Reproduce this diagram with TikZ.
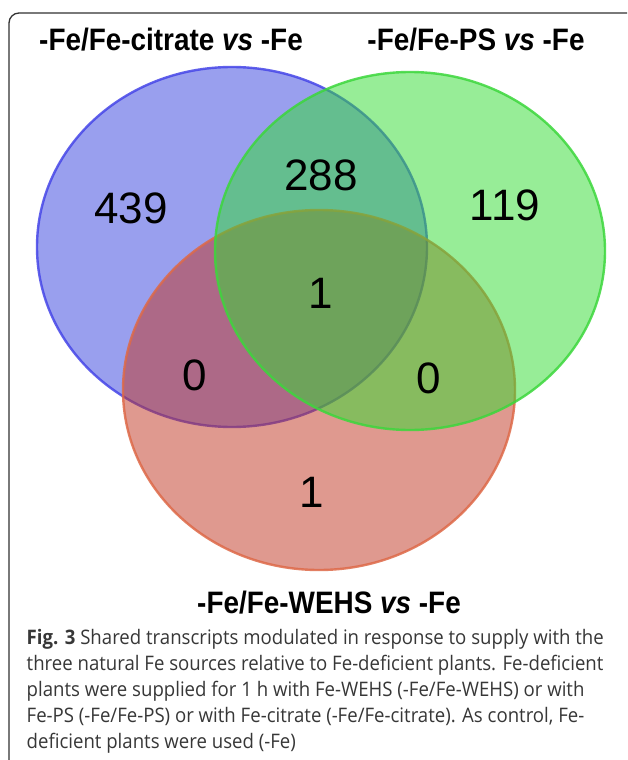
\documentclass[tikz,border=0pt]{standalone}
\usepackage{fontspec}
\setmainfont{Liberation Sans}
\newfontfamily\capfont{Open Sans}
\definecolor{vblue}{RGB}{53,65,223}
\definecolor{vgreen}{RGB}{49,221,49}
\definecolor{vred}{RGB}{193,53,33}
\definecolor{vbluel}{RGB}{70,70,232}
\definecolor{vgreenl}{RGB}{60,215,60}
\definecolor{vredl}{RGB}{222,105,72}
\definecolor{capgray}{RGB}{55,55,55}
\definecolor{framegray}{RGB}{50,50,50}
\tikzset{
  venn/.style={fill opacity=0.5, draw opacity=0.85, line width=2.4pt},
  count/.style={font=\fontsize{44}{44}\selectfont, inner sep=0pt, anchor=center},
  settitle/.style={font=\bfseries\fontsize{31}{31}\selectfont, inner sep=0pt, anchor=center},
  capline/.style={font=\capfont\fontsize{20}{20}\selectfont, text=capgray, inner sep=0pt, anchor=base west},
}
\newcommand{\capsq}[1]{\scalebox{0.93}[1]{#1}}
\begin{document}
\begin{tikzpicture}[x=1pt,y=-1pt]
\useasboundingbox (0,0) rectangle (627,760);
\clip (0,0) rectangle (627,760);
\fill[white] (0,0) rectangle (627,760);
\draw[framegray, line width=1.3pt, rounded corners=10pt] (9,800) -- (9,13) -- (637,13) -- (637,800);
% Venn ellipses: blue, red, green
\draw[venn, fill=vblue, draw=vbluel] (232,247) ellipse [x radius=195pt, y radius=180pt];
\draw[venn, fill=vred, draw=vredl] (319,390) ellipse [x radius=196pt, y radius=180pt];
\draw[venn, fill=vgreen, draw=vgreenl] (410,251) ellipse [x radius=195pt, y radius=179pt];
% set titles
\node[settitle] (t1) at (171,40) {\scalebox{0.9}[1]{-Fe/Fe-citrate \textit{vs} -Fe}};
\node[settitle] (t2) at (476,40) {\scalebox{0.9}[1]{-Fe/Fe-PS \textit{vs} -Fe}};
\node[settitle] (t3) at (329,603) {\scalebox{0.9}[1]{-Fe/Fe-WEHS \textit{vs} -Fe}};
% counts
\node[count] (c1) at (131,208) {439};
\node[count] (c2) at (321,175) {288};
\node[count] (c3) at (505,205) {119};
\node[count] (c4) at (321,293) {1};
\node[count] (c5) at (195,375) {0};
\node[count] (c6) at (429,378) {0};
\node[count] (c7) at (312,492) {1};
% caption
\node[capline] (l1) at (26.5,644) {\capsq{\textbf{Fig. 3} Shared transcripts modulated in response to supply with the}};
\node[capline] (l2) at (26.5,670) {\capsq{three natural Fe sources relative to Fe-deficient plants. Fe-deficient}};
\node[capline] (l3) at (26.5,696) {\capsq{plants were supplied for 1 h with Fe-WEHS (-Fe/Fe-WEHS) or with}};
\node[capline] (l4) at (26.5,722) {\capsq{Fe-PS (-Fe/Fe-PS) or with Fe-citrate (-Fe/Fe-citrate). As control, Fe-}};
\node[capline] (l5) at (26.5,748) {\capsq{deficient plants were used (-Fe)}};
\end{tikzpicture}
\end{document}
